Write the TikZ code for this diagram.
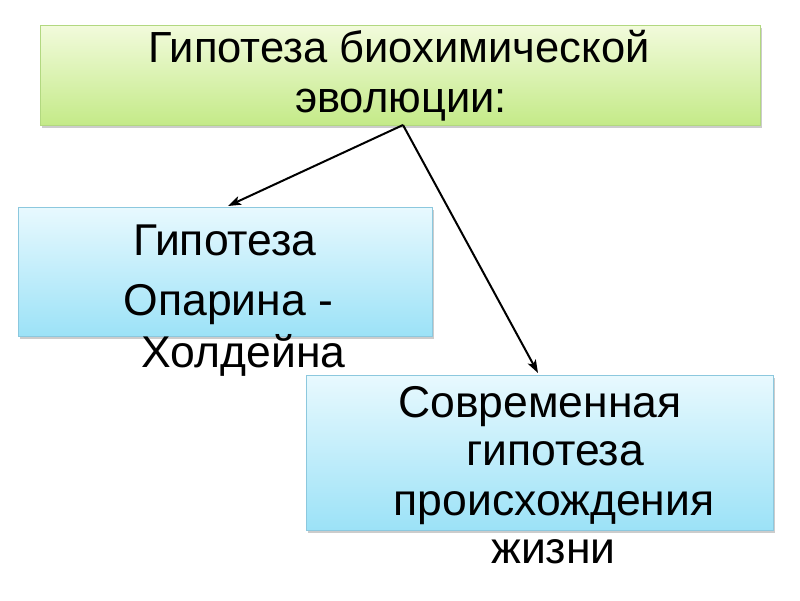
\documentclass[tikz,border=0pt]{standalone}
\usepackage{fontspec}
\setmainfont{Liberation Sans}
\usetikzlibrary{arrows.meta,shadows}
\definecolor{gtop}{HTML}{F2FBDC}
\definecolor{gbot}{HTML}{C4EA88}
\definecolor{gline}{HTML}{B2D880}
\definecolor{btop}{HTML}{E8F9FE}
\definecolor{bbot}{HTML}{9CE2F7}
\definecolor{bline}{HTML}{8CC8DE}
\tikzset{
  box/.style={rectangle, draw, line width=0.8pt, inner sep=0pt,
    drop shadow={shadow xshift=2pt, shadow yshift=-3pt, opacity=0.2, fill=black}},
  greenbox/.style={box, draw=gline, top color=gtop, bottom color=gbot},
  bluebox/.style={box, draw=bline, top color=btop, bottom color=bbot},
  txt/.style={anchor=base, inner sep=0pt, font=\fontsize{44.5}{50}\selectfont},
  ttxt/.style={txt, font=\fontsize{43.5}{50}\selectfont},
  arr/.style={line width=2pt, -{Stealth[length=13pt,width=9pt,inset=3pt]}}
}
\begin{document}
\begin{tikzpicture}[x=1pt,y=-1pt]
\useasboundingbox (0,0) rectangle (800,600);
\fill[white] (0,0) rectangle (800,600);
\node[greenbox, minimum width=720pt, minimum height=100pt] (top) at (400,75) {};
\node[bluebox, minimum width=414pt, minimum height=129pt] (left) at (225,271.5) {};
\node[bluebox, minimum width=467pt, minimum height=155pt] (right) at (539.5,452.5) {};
\coordinate (src) at (403,125);
\coordinate (lend) at (228,206);
\coordinate (rend) at (538,373);
\draw[arr] (src) -- (lend);
\draw[arr] (src) -- (rend);
\node[ttxt] (t1) at (399,62) {Гипотеза биохимической};
\node[ttxt] (t2) at (401,112) {эволюции:};
\node[txt] (l1) at (225,255) {Гипотеза};
\node[txt] (l2) at (228.5,315) {Опарина -};
\node[txt] (l3) at (243.5,367) {Холдейна};
\node[txt] (r1) at (540,417) {Современная};
\node[txt] (r2) at (555,465) {гипотеза};
\node[txt] (r3) at (554,515) {происхождения};
\node[txt] (r4) at (553.5,563) {жизни};
\end{tikzpicture}
\end{document}
